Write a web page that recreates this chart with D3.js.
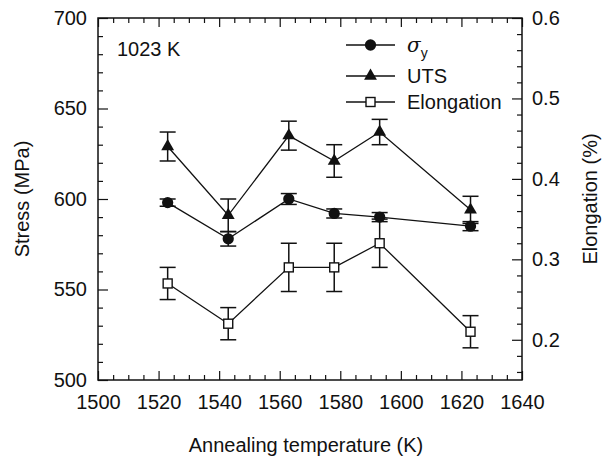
<!DOCTYPE html>
<html lang="en">
<head>
<meta charset="utf-8">
<title>Stress and elongation vs annealing temperature</title>
<script src="https://d3js.org/d3.v7.min.js"></script>
<style>
  body { margin: 0; background: #fff; }
  text { font-family: "Liberation Sans", Arial, Helvetica, sans-serif; fill: #111; }
</style>
</head>
<body>
<svg width="614" height="461"></svg>
<script>
    // annealing temperatures (K)
    var temps = [1523, 1543, 1563, 1578, 1593, 1623];
    // yield stress and UTS (MPa) with error bars
    var sigmaY    = [598, 578, 600, 592, 590, 585];
    var sigmaYErr = [2, 4, 3, 2.5, 2.5, 2.5];
    var uts       = [629, 591, 635, 621, 637, 594];
    var utsErr    = [8, 9, 8, 9, 7, 7.5];
    // elongation (%) on right axis
    var elong    = [0.27, 0.22, 0.29, 0.29, 0.32, 0.21];
    var elongErr = [0.02, 0.02, 0.03, 0.03, 0.03, 0.02];

    var xTicks = [1500, 1520, 1540, 1560, 1580, 1600, 1620, 1640];
    var yTicks = [500, 550, 600, 650, 700];
    var y2Ticks = [0.2, 0.3, 0.4, 0.5, 0.6];

    var svg = d3.select("svg");
    var margin = {top: 18, right: 92, bottom: 81, left: 98};
    var width = 614 - margin.left - margin.right;
    var height = 461 - margin.top - margin.bottom;
    var g = svg.append("g")
        .attr("transform", "translate(" + margin.left + "," + margin.top + ")");

    var x = d3.scaleLinear().domain([1500, 1640]).range([0, width]);
    var y = d3.scaleLinear().domain([500, 700]).range([height, 0]);
    var y2 = d3.scaleLinear().domain([0.15, 0.6]).range([height, 0]);

    function styleAxis(sel, showText) {
        sel.select(".domain").remove();
        sel.selectAll(".tick line").attr("stroke", "#111").attr("stroke-width", 1.2);
        sel.selectAll(".tick text").style("font-size", "20px").attr("fill", "#111");
        if (!showText) sel.selectAll(".tick text").remove();
    }

    // minor ticks
    var xMinor = d3.range(1505, 1640, 5).filter(function(d){ return d % 20 !== 0; });
    var yMinor = d3.range(510, 700, 10).filter(function(d){ return d % 50 !== 0; });
    var y2Minor = d3.range(0.16, 0.595, 0.02).map(function(d){ return +d.toFixed(2); })
        .filter(function(d){ return Math.round(d * 100) % 10 !== 0; });

    g.append("g").attr("transform", "translate(0," + height + ")")
        .call(d3.axisBottom(x).tickValues(xMinor).tickSize(-5).tickFormat(""))
        .call(styleAxis, false);
    g.append("g")
        .call(d3.axisTop(x).tickValues(xMinor).tickSize(-5).tickFormat(""))
        .call(styleAxis, false);
    g.append("g")
        .call(d3.axisLeft(y).tickValues(yMinor).tickSize(-5).tickFormat(""))
        .call(styleAxis, false);
    g.append("g").attr("transform", "translate(" + width + ",0)")
        .call(d3.axisRight(y2).tickValues(y2Minor).tickSize(-5).tickFormat(""))
        .call(styleAxis, false);

    // major ticks and labels
    g.append("g").attr("transform", "translate(0," + height + ")")
        .call(d3.axisBottom(x).tickValues(xTicks).tickSize(-9).tickPadding(15).tickFormat(d3.format("d")))
        .call(styleAxis, true);
    g.append("g")
        .call(d3.axisTop(x).tickValues(xTicks).tickSize(-9).tickFormat(""))
        .call(styleAxis, false);
    g.append("g")
        .call(d3.axisLeft(y).tickValues(yTicks).tickSize(-10).tickPadding(11).tickFormat(d3.format("d")))
        .call(styleAxis, true);
    g.append("g").attr("transform", "translate(" + width + ",0)")
        .call(d3.axisRight(y2).tickValues(y2Ticks).tickSize(-10).tickPadding(10).tickFormat(d3.format(".1f")))
        .call(styleAxis, true);

    // frame
    g.append("rect")
        .attr("width", width).attr("height", height)
        .attr("fill", "none").attr("stroke", "#111").attr("stroke-width", 1.5);

    var series = [
        {vals: sigmaY, err: sigmaYErr, scale: y, sym: d3.symbolCircle, size: 100},
        {vals: uts, err: utsErr, scale: y, sym: d3.symbolTriangle, size: 72},
        {vals: elong, err: elongErr, scale: y2, sym: null}
    ];

    // elongation first so the stress markers sit above its error bars
    [series[2], series[0], series[1]].forEach(function(s) {
        var line = d3.line()
            .x(function(d, i){ return x(temps[i]); })
            .y(function(d){ return s.scale(d); });
        g.append("path").datum(s.vals)
            .attr("d", line).attr("fill", "none")
            .attr("stroke", "#111").attr("stroke-width", 1.3);

        var eb = g.append("g").attr("stroke", "#111").attr("stroke-width", 1.5);
        s.vals.forEach(function(v, i) {
            var cx = x(temps[i]);
            var top = s.scale(v + s.err[i]), bot = s.scale(v - s.err[i]);
            eb.append("line").attr("x1", cx).attr("x2", cx).attr("y1", top).attr("y2", bot);
            eb.append("line").attr("x1", cx - 8).attr("x2", cx + 8).attr("y1", top).attr("y2", top);
            eb.append("line").attr("x1", cx - 8).attr("x2", cx + 8).attr("y1", bot).attr("y2", bot);
        });
    });

    function drawMarker(sel, s, cx, cy) {
        if (s.sym) {
            sel.append("path")
                .attr("d", d3.symbol().type(s.sym).size(s.size)())
                .attr("transform", "translate(" + cx + "," + cy + ")")
                .attr("fill", "#111");
        } else {
            sel.append("rect")
                .attr("x", cx - 4.5).attr("y", cy - 4.5)
                .attr("width", 9).attr("height", 9)
                .attr("fill", "#fff").attr("stroke", "#111").attr("stroke-width", 1.4);
        }
    }

    series.forEach(function(s) {
        var mg = g.append("g");
        s.vals.forEach(function(v, i) {
            drawMarker(mg, s, x(temps[i]), s.scale(v));
        });
    });

    // legend
    var legend = g.append("g").attr("transform", "translate(248,0)");
    var rows = [27, 58, 84];
    series.forEach(function(s, i) {
        legend.append("line")
            .attr("x1", 0).attr("x2", 49).attr("y1", rows[i]).attr("y2", rows[i])
            .attr("stroke", "#111").attr("stroke-width", 1.3);
        drawMarker(legend, s, 24.5, rows[i]);
    });
    var sig = legend.append("text").attr("x", 61).attr("y", rows[0] + 7).style("font-size", "20px");
    sig.append("tspan").style("font-style", "italic").style("font-family", "'DejaVu Serif', serif").text("σ");
    sig.append("tspan").attr("dy", 6).style("font-size", "14px").text("y");
    legend.append("text").attr("x", 61).attr("y", rows[1] + 7).style("font-size", "20px").text("UTS");
    legend.append("text").attr("x", 61).attr("y", rows[2] + 7).style("font-size", "20px").text("Elongation");

    g.append("text").attr("x", 19).attr("y", 38).style("font-size", "20px").text("1023 K");

    // axis titles
    svg.append("text")
        .attr("x", 306).attr("y", 452)
        .attr("text-anchor", "middle").style("font-size", "20px")
        .text("Annealing temperature (K)");
    svg.append("text")
        .attr("transform", "translate(29," + (margin.top + height / 2) + ") rotate(-90)")
        .attr("text-anchor", "middle").style("font-size", "20px")
        .text("Stress (MPa)");
    svg.append("text")
        .attr("transform", "translate(597," + (margin.top + height / 2) + ") rotate(-90)")
        .attr("text-anchor", "middle").style("font-size", "20px")
        .text("Elongation (%)");
</script>
</body>
</html>
